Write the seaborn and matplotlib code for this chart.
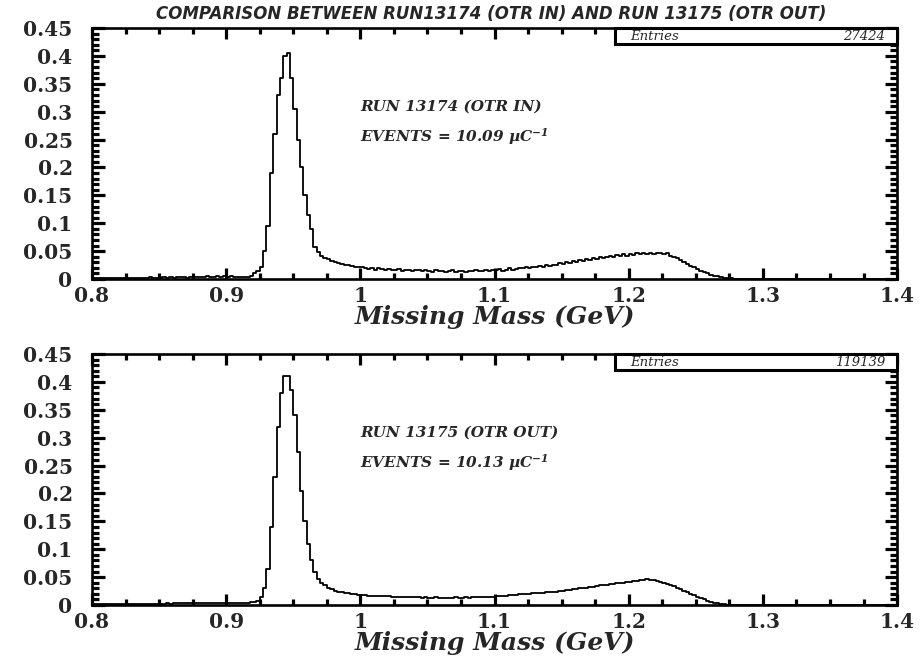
import numpy as np
import pandas as pd
import seaborn as sns
import matplotlib.pyplot as plt
from matplotlib.patches import Rectangle
from matplotlib.ticker import MultipleLocator, FixedLocator, FixedFormatter

sns.set_style("ticks")
plt.rcParams['font.family'] = ['DejaVu Serif', 'DejaVu Sans']
plt.rcParams['mathtext.fontset'] = 'custom'
plt.rcParams['mathtext.rm'] = 'DejaVu Serif:bold:italic'
plt.rcParams['mathtext.it'] = 'DejaVu Serif:bold:italic'

# Missing-mass histograms, 240 bins of 2.5 MeV from 0.8 to 1.4 GeV
mass_lo, mass_hi, n_bins = 0.8, 1.4, 240

otr_in = [
    # 0.800 - 0.8475
    0.002, 0.001, 0.002, 0.001, 0.002, 0.002, 0.001, 0.002, 0.001, 0.002,
    0.002, 0.001, 0.002, 0.002, 0.001, 0.002, 0.002, 0.003, 0.002, 0.002,
    # 0.850 - 0.8975
    0.002, 0.003, 0.002, 0.003, 0.002, 0.003, 0.004, 0.003, 0.002, 0.004,
    0.003, 0.004, 0.003, 0.004, 0.005, 0.003, 0.004, 0.005, 0.004, 0.005,
    # 0.900 - 0.9475
    0.004, 0.005, 0.004, 0.003, 0.004, 0.003, 0.004, 0.006, 0.010, 0.014,
    0.022, 0.050, 0.095, 0.190, 0.260, 0.330, 0.360, 0.400, 0.405, 0.360,
    # 0.950 - 0.9975
    0.305, 0.250, 0.200, 0.150, 0.115, 0.090, 0.058, 0.048, 0.042, 0.038,
    0.035, 0.032, 0.030, 0.028, 0.027, 0.025, 0.025, 0.023, 0.022, 0.021,
    # 1.000 - 1.0475
    0.022, 0.019, 0.018, 0.020, 0.017, 0.019, 0.018, 0.016, 0.018, 0.017,
    0.016, 0.018, 0.015, 0.017, 0.016, 0.015, 0.017, 0.016, 0.014, 0.016,
    # 1.050 - 1.0975
    0.015, 0.013, 0.016, 0.014, 0.015, 0.013, 0.014, 0.016, 0.013, 0.015,
    0.014, 0.013, 0.015, 0.014, 0.016, 0.015, 0.014, 0.016, 0.015, 0.017,
    # 1.100 - 1.1475
    0.016, 0.018, 0.015, 0.017, 0.019, 0.017, 0.018, 0.020, 0.019, 0.021,
    0.020, 0.022, 0.021, 0.024, 0.022, 0.025, 0.023, 0.026, 0.025, 0.028,
    # 1.150 - 1.1975
    0.027, 0.030, 0.029, 0.032, 0.030, 0.034, 0.033, 0.036, 0.034, 0.038,
    0.036, 0.039, 0.037, 0.040, 0.042, 0.039, 0.043, 0.041, 0.044, 0.042,
    # 1.200 - 1.2475
    0.045, 0.043, 0.046, 0.044, 0.047, 0.045, 0.046, 0.044, 0.046, 0.047,
    0.045, 0.046, 0.042, 0.040, 0.038, 0.034, 0.031, 0.027, 0.024, 0.021,
    # 1.250 - 1.2975
    0.018, 0.015, 0.012, 0.010, 0.008, 0.006, 0.005, 0.003, 0.002, 0.0015,
    0.001, 0.0007, 0.0005, 0.0003, 0.0002, 0.0001, 0.0, 0.0, 0.0, 0.0,
    # 1.300 - 1.3975
    0.0, 0.0, 0.0, 0.0, 0.0, 0.0, 0.0, 0.0, 0.0, 0.0,
    0.0, 0.0, 0.0, 0.0, 0.0, 0.0, 0.0, 0.0, 0.0, 0.0,
    0.0, 0.0, 0.0, 0.0, 0.0, 0.0, 0.0, 0.0, 0.0, 0.0,
    0.0, 0.0, 0.0, 0.0, 0.0, 0.0, 0.0, 0.0, 0.0, 0.0,
]

otr_out = [
    # 0.800 - 0.8475
    0.002, 0.002, 0.002, 0.002, 0.002, 0.002, 0.002, 0.002, 0.002, 0.002,
    0.002, 0.002, 0.002, 0.002, 0.002, 0.002, 0.002, 0.002, 0.002, 0.002,
    # 0.850 - 0.8975
    0.002, 0.002, 0.003, 0.002, 0.003, 0.003, 0.003, 0.003, 0.003, 0.003,
    0.003, 0.004, 0.003, 0.004, 0.004, 0.003, 0.004, 0.004, 0.004, 0.004,
    # 0.900 - 0.9475
    0.004, 0.004, 0.004, 0.004, 0.004, 0.004, 0.004, 0.005, 0.006, 0.008,
    0.015, 0.030, 0.065, 0.140, 0.230, 0.320, 0.380, 0.410, 0.410, 0.385,
    # 0.950 - 0.9975
    0.340, 0.275, 0.205, 0.150, 0.110, 0.080, 0.060, 0.047, 0.040, 0.035,
    0.031, 0.028, 0.026, 0.024, 0.023, 0.022, 0.021, 0.020, 0.019, 0.018,
    # 1.000 - 1.0475
    0.018, 0.018, 0.017, 0.017, 0.017, 0.016, 0.016, 0.016, 0.016, 0.015,
    0.015, 0.015, 0.015, 0.014, 0.014, 0.014, 0.014, 0.014, 0.013, 0.014,
    # 1.050 - 1.0975
    0.013, 0.013, 0.014, 0.013, 0.013, 0.013, 0.013, 0.013, 0.014, 0.013,
    0.013, 0.014, 0.013, 0.014, 0.014, 0.014, 0.014, 0.015, 0.015, 0.015,
    # 1.100 - 1.1475
    0.016, 0.016, 0.017, 0.017, 0.018, 0.018, 0.018, 0.019, 0.019, 0.020,
    0.020, 0.021, 0.021, 0.022, 0.022, 0.023, 0.023, 0.024, 0.024, 0.025,
    # 1.150 - 1.1975
    0.026, 0.027, 0.027, 0.028, 0.029, 0.030, 0.031, 0.031, 0.032, 0.033,
    0.034, 0.035, 0.035, 0.036, 0.037, 0.038, 0.039, 0.040, 0.040, 0.041,
    # 1.200 - 1.2475
    0.042, 0.043, 0.043, 0.044, 0.045, 0.046, 0.044, 0.045, 0.043, 0.042,
    0.040, 0.038, 0.036, 0.034, 0.031, 0.029, 0.026, 0.023, 0.020, 0.018,
    # 1.250 - 1.2975
    0.015, 0.012, 0.010, 0.008, 0.006, 0.004, 0.003, 0.002, 0.001, 0.0006,
    0.0003, 0.0001, 0.0, 0.0, 0.0, 0.0, 0.0, 0.0, 0.0, 0.0,
    # 1.300 - 1.3975
    0.0, 0.0, 0.0, 0.0, 0.0, 0.0, 0.0, 0.0, 0.0, 0.0,
    0.0, 0.0, 0.0, 0.0, 0.0, 0.0, 0.0, 0.0, 0.0, 0.0,
    0.0, 0.0, 0.0, 0.0, 0.0, 0.0, 0.0, 0.0, 0.0, 0.0,
    0.0, 0.0, 0.0, 0.0, 0.0, 0.0, 0.0, 0.0, 0.0, 0.0,
]

run_labels = ["RUN 13174 (OTR IN)", "RUN 13175 (OTR OUT)"]
charge_labels = ["10.09", "10.13"]
entries = ["27424", "119139"]

x_ticks = [0.8, 0.9, 1.0, 1.1, 1.2, 1.3, 1.4]
x_tick_labels = ["0.8", "0.9", "1", "1.1", "1.2", "1.3", "1.4"]
y_ticks = [0, 0.05, 0.1, 0.15, 0.2, 0.25, 0.3, 0.35, 0.4, 0.45]
y_tick_labels = ["0", "0.05", "0.1", "0.15", "0.2", "0.25", "0.3", "0.35", "0.4", "0.45"]

title = "COMPARISON BETWEEN RUN13174 (OTR IN) AND RUN 13175 (OTR OUT)"
x_label = "Missing Mass (GeV)"

edges = np.linspace(mass_lo, mass_hi, n_bins + 1)
centers = 0.5 * (edges[:-1] + edges[1:])

fig = plt.figure(figsize=(9.23, 6.61), dpi=100)
ax_top = fig.add_axes([0.0997, 0.5779, 0.8722, 0.3797])
ax_bot = fig.add_axes([0.0997, 0.0847, 0.8722, 0.3797])

for ax, vals, run, q, n in zip([ax_top, ax_bot], [otr_in, otr_out],
                               run_labels, charge_labels, entries):
    df = pd.DataFrame({"mass": centers, "rate": vals})
    sns.histplot(data=df, x="mass", weights="rate", bins=list(edges),
                 element="step", fill=False, color="black", linewidth=1.3,
                 ax=ax)
    ax.set_xlim(mass_lo, mass_hi)
    ax.set_ylim(0, 0.45)
    ax.set_ylabel("")
    ax.set_xlabel(x_label, fontsize=18, fontstyle='italic', fontweight='bold',
                  family='DejaVu Serif', va='top')
    ax.xaxis.set_label_coords(0.5, -0.105)

    ax.xaxis.set_major_locator(FixedLocator(x_ticks))
    ax.xaxis.set_major_formatter(FixedFormatter(x_tick_labels))
    ax.xaxis.set_minor_locator(MultipleLocator(0.025))
    ax.yaxis.set_major_locator(FixedLocator(y_ticks))
    ax.yaxis.set_major_formatter(FixedFormatter(y_tick_labels))
    ax.yaxis.set_minor_locator(MultipleLocator(0.01))

    ax.tick_params(which='both', direction='in', top=True, right=True,
                   color='black', width=2.3)
    ax.tick_params(axis='x', which='major', length=8, pad=5)
    ax.tick_params(axis='x', which='minor', length=4.5)
    ax.tick_params(axis='y', which='major', length=9, pad=14)
    ax.tick_params(axis='y', which='minor', length=5)
    for lab in ax.get_xticklabels() + ax.get_yticklabels():
        lab.set_family('DejaVu Serif')
        lab.set_fontweight('bold')
        lab.set_fontsize(14.5)
    for sp in ax.spines.values():
        sp.set_linewidth(1.9)
        sp.set_color('black')

    ax.text(0.333, 0.685, run, transform=ax.transAxes, fontsize=11,
            fontstyle='italic', fontweight='bold', family='DejaVu Serif',
            va='center')
    ax.text(0.333, 0.568, "EVENTS = " + q + r" µC$^{-1}$",
            transform=ax.transAxes, fontsize=11, fontstyle='italic',
            fontweight='bold', family='DejaVu Serif', va='center')

    # statistics box in the upper right corner
    box = Rectangle((0.65, 0.936), 0.35, 0.064, transform=ax.transAxes,
                    facecolor='white', edgecolor='black', linewidth=2.2,
                    clip_on=False, zorder=2)
    ax.add_patch(box)
    ax.text(0.668, 0.966, "Entries", transform=ax.transAxes, fontsize=9.5,
            fontstyle='italic', family='DejaVu Serif', va='center',
            ha='left', zorder=3)
    ax.text(0.985, 0.966, n, transform=ax.transAxes, fontsize=9.5,
            fontstyle='italic', family='DejaVu Serif', va='center',
            ha='right', zorder=3)

fig.text(0.532, 0.979, title, ha='center', va='center', fontsize=12,
         fontstyle='italic', fontweight='bold', family='DejaVu Sans')

fig.savefig("out.png", dpi=100, facecolor='white')
